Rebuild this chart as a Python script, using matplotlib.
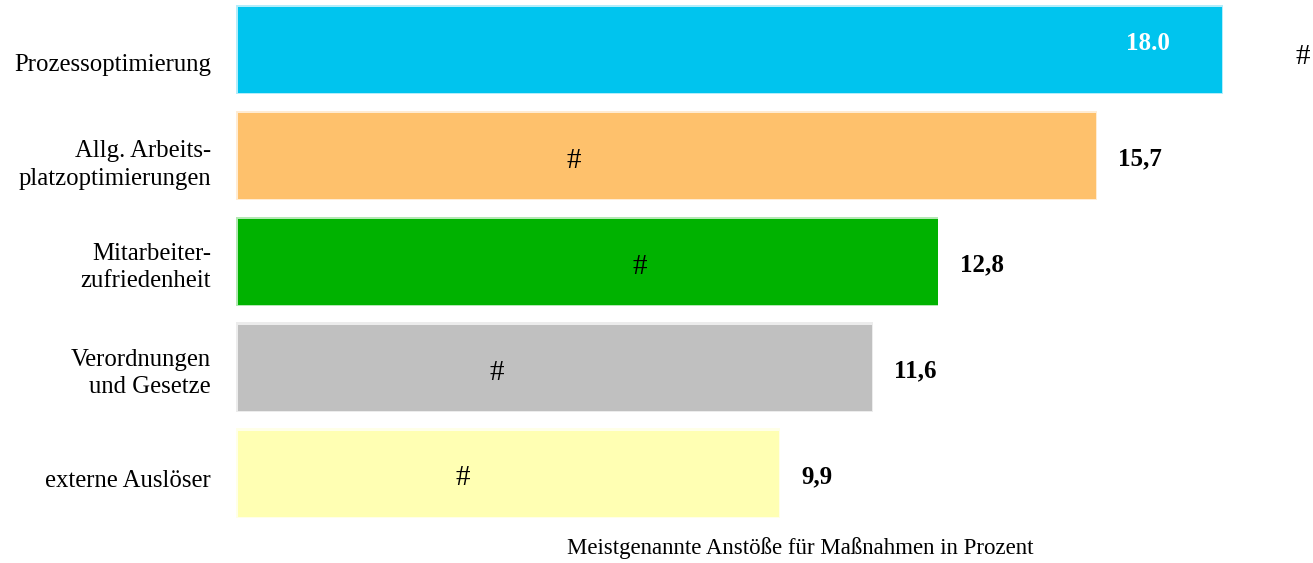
import matplotlib
matplotlib.use("Agg")
import matplotlib.pyplot as plt
from matplotlib.colors import to_rgb

categories = [
    "Prozessoptimierung",
    "Allg. Arbeits-\nplatzoptimierungen",
    "Mitarbeiter-\nzufriedenheit",
    "Verordnungen\nund Gesetze",
    "externe Auslöser",
]
values = [18.0, 15.7, 12.8, 11.6, 9.9]
value_labels = ["18.0", "15,7", "12,8", "11,6", "9,9"]
bar_colors = ["#00C4EE", "#FEC16C", "#00B200", "#C0C0C0", "#FFFFB3"]
hash_x = [19.48, 6.15, 7.34, 4.74, 4.12]
xlabel = "Meistgenannte Anstöße für Maßnahmen in Prozent"

W, H, DPI = 1313, 563, 100
fig = plt.figure(figsize=(W / DPI, H / DPI), dpi=DPI)
x0 = 238 / W
ax = fig.add_axes([x0, 0, 1 - x0, 1])

px_per_unit = 54.67
pitch = 106.0
ax.set_xlim(0, (W - 238) / px_per_unit)
ax.set_ylim((H - 50) / pitch, -50 / pitch)

serif = ["Liberation Serif", "DejaVu Serif"]
ypos = list(range(len(values)))
h = 86 / pitch

def lighten(c, f=0.7):
    r, g, b = to_rgb(c)
    return (r + (1 - r) * f, g + (1 - g) * f, b + (1 - b) * f)

# thin light frame peeking out at the top and left of each bar
ux = 1 / px_per_unit
uy = 1 / pitch
ax.barh([y - 0.75 * uy for y in ypos], [v + 3.0 * ux for v in values],
        left=-2.5 * ux, height=h + 3.5 * uy,
        color=[lighten(c) for c in bar_colors], zorder=1, clip_on=False)
ax.barh(ypos, values, height=h, color=bar_colors, zorder=2)

for y, v, lab in zip(ypos, values, value_labels):
    if y == 0:
        ax.annotate(lab, (v, y), xytext=(-96, 6), textcoords="offset pixels",
                    ha="left", va="center", color="white", fontweight="bold",
                    fontsize=18, family=serif, zorder=3)
    else:
        ax.annotate(lab, (v, y), xytext=(22, -3), textcoords="offset pixels",
                    ha="left", va="center", color="black", fontweight="bold",
                    fontsize=18, family=serif, zorder=3)

hash_dy = [7, 5.5, 4.5, 5, 4.5]
for y, hx, d in zip(ypos, hash_x, hash_dy):
    ax.annotate("#", (hx, y), xytext=(0, -d), textcoords="offset pixels",
                ha="center", va="center", fontsize=21, family=serif,
                zorder=3, annotation_clip=False)

# category labels, right-aligned left of the bars
label_dy = [15.5, 9, 5.5, 5.5, 7]
for y, cat, d in zip(ypos, categories, label_dy):
    ax.annotate(cat, (0, y), xycoords=ax.get_yaxis_transform(),
                xytext=(-27, -d), textcoords="offset pixels",
                ha="right", va="center", fontsize=17.8, family=serif,
                linespacing=1.3, annotation_clip=False)

ax.set_yticks([])
ax.set_xticks([])
for s in ax.spines.values():
    s.set_visible(False)

fig.text(800 / W, 1 - 548 / H, xlabel, ha="center", va="center",
         fontsize=16.5, family=serif)

fig.savefig("out.png", dpi=DPI)
